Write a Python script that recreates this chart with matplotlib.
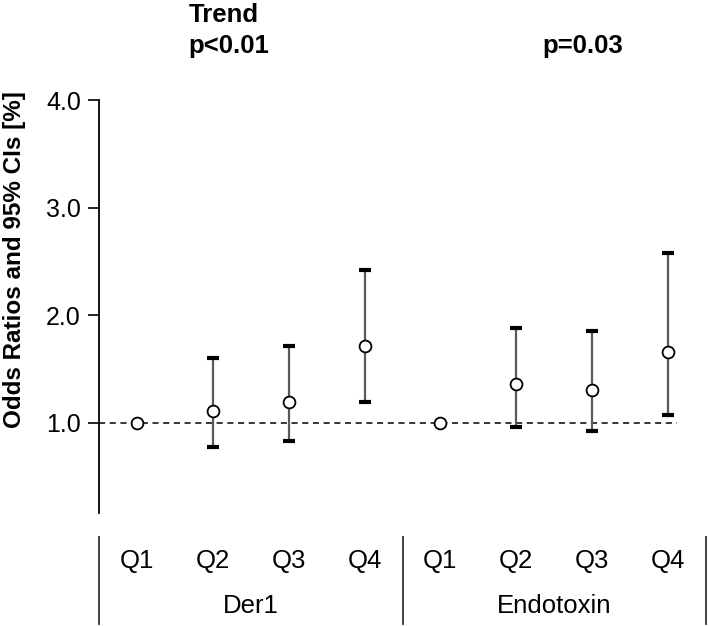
import matplotlib.pyplot as plt
import numpy as np

plt.rcParams['font.family'] = ['Liberation Sans', 'DejaVu Sans']

quartiles = ["Q1", "Q2", "Q3", "Q4", "Q1", "Q2", "Q3", "Q4"]
groups = ["Der1", "Endotoxin"]
odds = [1.00, 1.11, 1.19, 1.71, 1.00, 1.36, 1.30, 1.66]
ci_low = [1.00, 0.77, 0.83, 1.19, 1.00, 0.96, 0.92, 1.07]
ci_high = [1.00, 1.60, 1.71, 2.42, 1.00, 1.88, 1.85, 2.58]
trend_p = ["p<0.01", "p=0.03"]
yticks = [1.0, 2.0, 3.0, 4.0]

fig = plt.figure(figsize=(7.09, 6.26), dpi=100)
W, H = 709, 626
ax = fig.add_axes([99 / W, 1 - 513 / H, (706 - 99) / W, (513 - 100) / H])

x = np.arange(len(odds))
odds = np.array(odds)
lo = odds - np.array(ci_low)
hi = np.array(ci_high) - odds

ax.axhline(1.0, xmin=0, xmax=(7.12 + 0.5) / 8, color="black", lw=1.1, ls=(0, (4, 3)), zorder=1)

has_ci = np.array(ci_high) > np.array(ci_low)
eb = ax.errorbar(x[has_ci], odds[has_ci], yerr=[lo[has_ci], hi[has_ci]], fmt="none",
                 ecolor="#5a5a5a", elinewidth=1.6, capsize=4, capthick=3, zorder=2)
for cap in eb[1]:
    cap.set_markeredgecolor("black")
    cap.set_zorder(3)
ax.plot(x, odds, "o", ms=8.5, mfc="white", mec="black", mew=1.3, zorder=4)

ax.set_xlim(-0.5, 7.5)
ax.set_ylim(0.16, 4.0)
ax.set_xticks([])
ax.set_yticks(yticks)
ax.set_yticklabels([f"{v:.1f}" for v in yticks], fontsize=18)
ax.tick_params(axis="y", direction="out", length=8, width=1.2, pad=5)
for s in ["top", "right", "bottom"]:
    ax.spines[s].set_visible(False)
ax.spines["left"].set_linewidth(1.3)
ax.set_ylabel("Odds Ratios and 95% CIs [%]", fontsize=17.5, fontweight="bold")
ax.yaxis.set_label_coords((26 - 99) / (706 - 99), 0.613)

# category labels below
for i, q in enumerate(quartiles):
    fig.text(ax.transData.transform((i, 0))[0] / W, 1 - 561 / H, q,
             ha="center", va="center", fontsize=18.5)
for g, c in enumerate(groups):
    fig.text(ax.transData.transform((g * 4 + 1.5, 0))[0] / W, 1 - 606 / H, c,
             ha="center", va="center", fontsize=18.5)
for xs in [-0.5, 3.5, 7.5]:
    xf = ax.transData.transform((xs, 0))[0] / W
    fig.add_artist(plt.Line2D([xf, xf], [1 - 537 / H, 1 - 624 / H], color="#333333", lw=1.3))

# trend p-values
fig.text(189 / W, 1 - 15 / H, "Trend", fontsize=18.5, fontweight="bold", va="center")
fig.text(188 / W, 1 - 46 / H, trend_p[0], fontsize=18.5, fontweight="bold", va="center")
fig.text(542 / W, 1 - 46 / H, trend_p[1], fontsize=18.5, fontweight="bold", va="center")

fig.savefig("out.png", dpi=100)
